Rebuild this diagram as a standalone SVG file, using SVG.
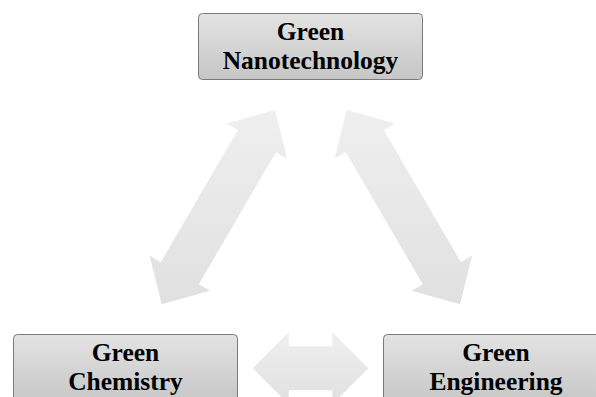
<svg xmlns="http://www.w3.org/2000/svg" width="596" height="397" viewBox="0 0 596 397">
<defs>
<linearGradient id="boxg" x1="0" y1="0" x2="0" y2="1">
<stop offset="0" stop-color="#e3e3e3"/>
<stop offset="1" stop-color="#c6c6c6"/>
</linearGradient>
<linearGradient id="arrg" x1="0" y1="0" x2="0" y2="1">
<stop offset="0" stop-color="#efefef"/>
<stop offset="1" stop-color="#e0e0e0"/>
</linearGradient>
<style>
.box{fill:url(#boxg);stroke:#7a7a7a;stroke-width:1}
.arr{fill:url(#arrg);stroke:none}
.lbl{font-family:"Liberation Serif","Times New Roman",serif;font-weight:bold;font-size:25.5px;fill:#000;text-anchor:middle}
</style>
</defs>
<rect width="596" height="397" fill="#fff"/>
<g id="connectors">
<polygon class="arr" points="275.0,110.0 287.11,158.71 275.88,152.16 198.82,284.30 210.05,290.85 161.69,304.31 149.59,255.59 160.82,262.14 237.88,130.0 226.65,123.45"/>
<polygon class="arr" points="346.7,110.0 334.59,158.71 345.82,152.16 422.88,284.30 411.65,290.85 460.01,304.31 472.11,255.59 460.88,262.14 383.82,130.0 395.05,123.45"/>
<polygon class="arr" points="252.7,368.3 288.7,332.3 288.7,346.3 332.3,346.3 332.3,332.3 368.3,368.3 332.3,404.3 332.3,390.3 288.7,390.3 288.7,404.3"/>
</g>
<g id="nano">
<rect class="box" x="198.5" y="13.5" width="224" height="66" rx="4"/>
<text class="lbl" x="310.5" y="40">Green</text>
<text class="lbl" x="310.5" y="68.5">Nanotechnology</text>
</g>
<g id="chem">
<rect class="box" x="13.5" y="334.5" width="224" height="70" rx="4"/>
<text class="lbl" x="125.5" y="361">Green</text>
<text class="lbl" x="125.5" y="389.5">Chemistry</text>
</g>
<g id="eng">
<rect class="box" x="383.5" y="334.5" width="225" height="70" rx="4"/>
<text class="lbl" x="496" y="361">Green</text>
<text class="lbl" x="496" y="389.5">Engineering</text>
</g>
</svg>
